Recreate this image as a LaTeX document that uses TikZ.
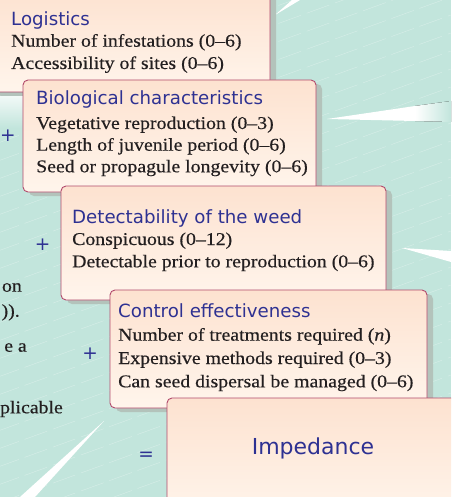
\documentclass[tikz,border=0pt]{standalone}
\usepackage{fontspec}
\setmainfont{Liberation Serif}[FakeStretch=1.1, FakeBold=0.4]
\newfontfamily\headfont{DejaVu Sans}

\definecolor{bgteal}{HTML}{C2E5DC}
\definecolor{boxtop}{HTML}{FDE2D0}
\definecolor{boxbottom}{HTML}{FFF5EC}
\definecolor{boxedge}{HTML}{B24A6C}
\definecolor{boxshadow}{HTML}{B3C3BB}
\definecolor{headblue}{HTML}{2E3192}
\definecolor{bodytext}{HTML}{231F20}

\tikzset{
	box/.style={draw=boxedge, line width=0.9pt, rounded corners=5pt, top color=boxtop, bottom color=boxbottom},
	boxshade/.style={fill=boxshadow, rounded corners=5pt},
	head/.style={inner sep=0pt, anchor=base west, text=headblue, font=\headfont\fontsize{18.2}{20}\selectfont},
	item/.style={inner sep=0pt, anchor=base west, text=bodytext, font=\fontsize{18}{21}\selectfont},
	cuttext/.style={inner sep=0pt, anchor=base east, text=bodytext, font=\fontsize{18}{21}\selectfont},
	sign/.style={inner sep=0pt, text=headblue, font=\headfont\fontsize{18.5}{20}\selectfont},
	streak/.style={fill=white}
}

\begin{document}
\begin{tikzpicture}[x=1pt, y=-1pt]
		\useasboundingbox (0, 0) rectangle (451, 497);
		\clip (0, 0) rectangle (451, 497);

		% 背景と白い光線を描画
		\fill[bgteal] (0, 0) rectangle (451, 497);
		\foreach \k in {0,...,34}
			\draw[white, opacity=0.35, line width=0.4pt, dash pattern=on 24pt off 6pt] (-60, 20+\k*18) -- ++(580, -210);
		\fill[top color=white!85!bgteal, bottom color=bgteal] (0, 93) rectangle (30, 128);
		\fill[streak] (275, 15) -- (292, 0) -- (300, 0) -- cycle;
		\fill[streak] (327, 119) -- (415, 106) -- (415, 121) -- cycle;
		\fill[left color=white, right color=bgteal] (415, 106) -- (451, 101) -- (451, 122) -- (415, 121) -- cycle;
		\fill[streak] (402, 248) -- (451, 251) -- (451, 262) -- cycle;
		\fill[streak] (104, 421) -- (35, 497) -- (20, 497) -- cycle;

		% 左側で切れている本文を描画
		\node[cuttext] (cutOn) at (22, 291.7) {on};
		\node[cuttext] (cutParen) at (20, 316.7) {)).};
		\node[cuttext] (cutArea) at (27, 351.7) {e a};
		\node[cuttext] (cutApply) at (63, 413.3) {plicable};

		% Logisticsの枠と文字を描画
		\fill[boxshade] (-4, -6) rectangle (276, 96);
		\draw[box] (-10, -10) rectangle (270, 92);
		\node[head] (logistics) at (11, 25.3) {Logistics};
		\node[item] (infest) at (11, 46.7) {Number of infestations (0--6)};
		\node[item] (access) at (11, 69) {Accessibility of sites (0--6)};

		% Biological characteristicsの枠と文字を描画
		\fill[boxshade] (29, 84) rectangle (322, 196);
		\draw[box] (23, 80) rectangle (316, 192);
		\node[head] (biology) at (36, 105) {Biological characteristics};
		\node[item] (vegetative) at (36, 129) {Vegetative reproduction (0--3)};
		\node[item] (juvenile) at (36, 150.7) {Length of juvenile period (0--6)};
		\node[item] (longevity) at (36, 172.3) {Seed or propagule longevity (0--6)};

		% Detectabilityの枠と文字を描画
		\fill[boxshade] (67, 190) rectangle (392, 304);
		\draw[box] (61, 186) rectangle (386, 300);
		\node[head] (detect) at (72, 223.3) {Detectability of the weed};
		\node[item] (conspicuous) at (72, 245) {Conspicuous (0--12)};
		\node[item] (prior) at (72, 267.3) {Detectable prior to reproduction (0--6)};

		% Control effectivenessの枠と文字を描画
		\fill[boxshade] (116, 294) rectangle (433, 412);
		\draw[box] (110, 290) rectangle (427, 408);
		\node[head] (control) at (118, 317.3) {Control effectiveness};
		\node[item] (treatments) at (118, 340.7) {Number of treatments required (\textit{n})};
		\node[item] (expensive) at (118, 364) {Expensive methods required (0--3)};
		\node[item] (dispersal) at (118, 387.3) {Can seed dispersal be managed (0--6)};

		% Impedanceの枠と文字を描画
		\draw[box] (167, 398) rectangle (470, 520);
		\node[head, anchor=base, font=\headfont\fontsize{22}{24}\selectfont] (impedance) at (313, 454) {Impedance};

		% 足し算の記号を描画
		\node[sign] (plusA) at (7.8, 136) {+};
		\node[sign] (plusB) at (42.7, 245) {+};
		\node[sign] (plusC) at (90, 354) {+};
		\node[sign] (equals) at (146, 456.7) {=};
\end{tikzpicture}
\end{document}
